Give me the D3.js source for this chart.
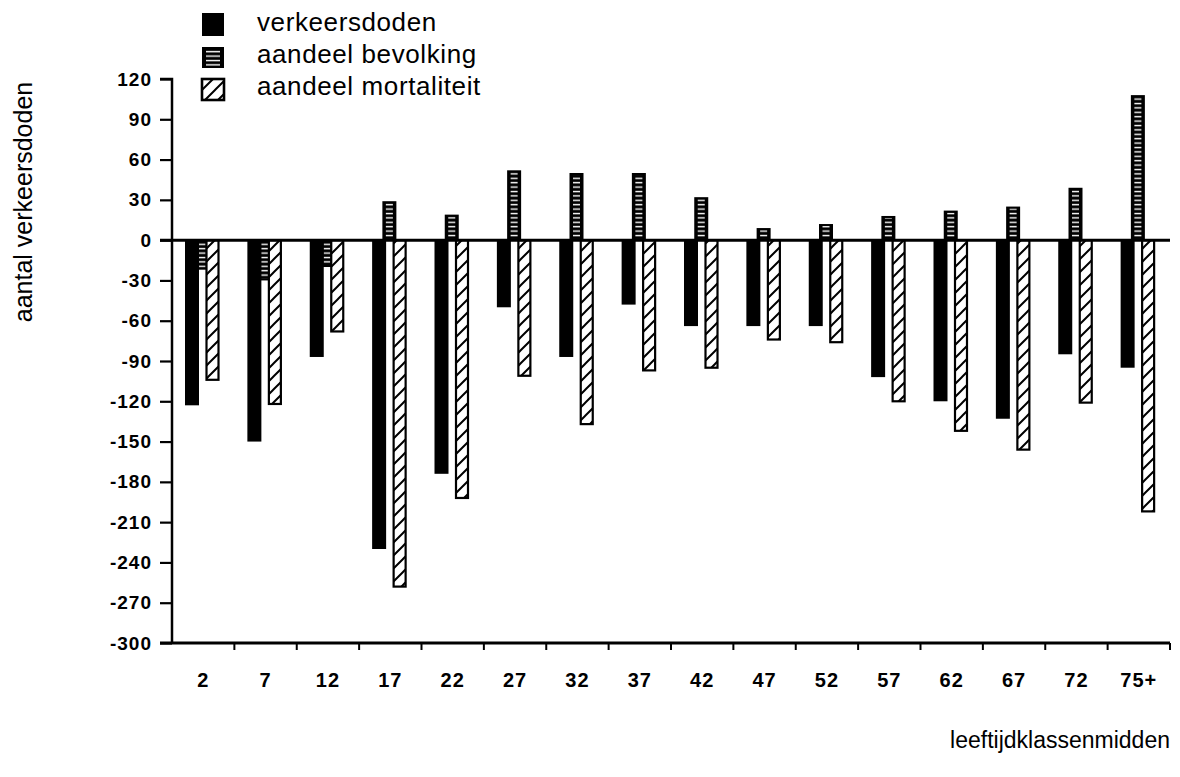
<!DOCTYPE html>
<html>
<head>
<meta charset="utf-8">
<script src="https://cdn.jsdelivr.net/npm/d3@7"></script>
<style>
  body { margin: 0; background: #fff; }
  svg { display: block; font-family: "Liberation Sans", Arial, Helvetica, sans-serif; }
  .tick-label { font-size: 19px; font-weight: bold; fill: #000; letter-spacing: 1px; }
  .x-label { font-size: 20px; font-weight: bold; fill: #000; letter-spacing: 1px; }
  .title { font-size: 23px; fill: #000; }
  .ylab { font-size: 25px; fill: #000; }
  .leg { font-size: 26px; fill: #000; letter-spacing: 0.6px; }
</style>
</head>
<body>
<div id="chart"></div>
<script>
// ---- data ----
const ageLabels = ["2","7","12","17","22","27","32","37","42","47","52","57","62","67","72","75+"];
const verkeersdoden      = [-123, -150, -87, -230, -174, -50, -87, -48, -64, -64, -64, -102, -120, -133, -85, -95];
const aandeelBevolking   = [-22, -30, -20, 29, 19, 52, 50, 50, 32, 9, 12, 18, 22, 25, 39, 108];
const aandeelMortaliteit = [-104, -122, -68, -258, -192, -101, -137, -97, -95, -74, -76, -120, -142, -156, -121, -202];
const yTicks = [120, 90, 60, 30, 0, -30, -60, -90, -120, -150, -180, -210, -240, -270, -300];
const seriesNames = ["verkeersdoden", "aandeel bevolking", "aandeel mortaliteit"];

const W = 1180, H = 777;
const plot = { left: 172, right: 1170, top: 79, bottom: 643 };
const barW = 14;

const svg = d3.select("#chart").append("svg")
  .attr("width", W).attr("height", H);

// ---- patterns ----
const defs = svg.append("defs");

// white horizontal dashes for "aandeel bevolking"
defs.append("pattern")
  .attr("id", "hlines")
  .attr("patternUnits", "userSpaceOnUse")
  .attr("width", 8).attr("height", 4.4)
  .append("rect")
  .attr("x", 0).attr("y", 1.6)
  .attr("width", 8).attr("height", 1.4)
  .attr("fill", "#fff");

// "/" diagonals for "aandeel mortaliteit"
const diag = defs.append("pattern")
  .attr("id", "diag")
  .attr("patternUnits", "userSpaceOnUse")
  .attr("width", 13).attr("height", 13);
diag.append("rect").attr("width", 13).attr("height", 13).attr("fill", "#fff");
diag.append("path")
  .attr("d", "M0,13 L13,0 M-2,2 L2,-2 M11,15 L15,11")
  .attr("stroke", "#000")
  .attr("stroke-width", 2);

// ---- scales ----
const x = d3.scaleBand()
  .domain(ageLabels)
  .range([plot.left, plot.right])
  .padding(0);

const sub = d3.scalePoint()
  .domain(seriesNames)
  .range([20, 40.5]);

const y = d3.scaleLinear()
  .domain([-300, 120])
  .range([plot.bottom, plot.top]);

const rows = ageLabels.map((a, i) => ({
  age: a,
  dood: verkeersdoden[i],
  bev: aandeelBevolking[i],
  mort: aandeelMortaliteit[i]
}));

function barY(v) { return Math.min(y(v), y(0)); }
function barH(v) { return Math.abs(y(v) - y(0)); }

// ---- bars ----
const bars = svg.append("g");

// aandeel bevolking (behind)
const bev = bars.selectAll("g.bev").data(rows).join("g").attr("class", "bev");
bev.append("rect")
  .attr("x", d => x(d.age) + sub("aandeel bevolking") - barW / 2)
  .attr("y", d => barY(d.bev))
  .attr("width", barW)
  .attr("height", d => barH(d.bev))
  .attr("fill", "#000");
bev.append("rect")
  .attr("x", d => x(d.age) + sub("aandeel bevolking") - barW / 2 + 3.5)
  .attr("y", d => barY(d.bev) + 2)
  .attr("width", barW - 7)
  .attr("height", d => Math.max(0, barH(d.bev) - 4))
  .attr("fill", "url(#hlines)");

// verkeersdoden (solid)
bars.selectAll("rect.dood").data(rows).join("rect")
  .attr("class", "dood")
  .attr("x", d => x(d.age) + sub("verkeersdoden") - barW / 2)
  .attr("y", d => barY(d.dood))
  .attr("width", barW)
  .attr("height", d => barH(d.dood))
  .attr("fill", "#000");

// aandeel mortaliteit (hatched)
bars.selectAll("rect.mort").data(rows).join("rect")
  .attr("class", "mort")
  .attr("x", d => x(d.age) + sub("aandeel mortaliteit") - barW / 2 + 1)
  .attr("y", d => barY(d.mort))
  .attr("width", barW - 2)
  .attr("height", d => barH(d.mort))
  .attr("fill", "url(#diag)")
  .attr("stroke", "#000")
  .attr("stroke-width", 2.2);

// ---- axes ----
const yAxis = svg.append("g")
  .attr("transform", `translate(${plot.left},0)`)
  .call(d3.axisLeft(y).tickValues(yTicks).tickSize(12).tickPadding(8).tickFormat(d => String(d)));
yAxis.select(".domain").attr("stroke-width", 2.5).attr("d", `M-12,${plot.top}H0V${plot.bottom}`);
yAxis.selectAll(".tick line").attr("stroke-width", 2.2);
yAxis.selectAll(".tick text").attr("class", "tick-label").attr("font-family", null).attr("font-size", null);

// zero line
svg.append("line")
  .attr("x1", plot.left - 12).attr("x2", plot.right)
  .attr("y1", y(0)).attr("y2", y(0))
  .attr("stroke", "#000").attr("stroke-width", 3);

// bottom axis: ticks at group boundaries, labels at group centres
const xAxis = svg.append("g")
  .attr("transform", `translate(0,${plot.bottom})`)
  .call(d3.axisBottom(x).tickSize(0).tickPadding(30));
xAxis.select(".domain").remove();
xAxis.selectAll(".tick text").attr("class", "x-label").attr("font-family", null).attr("font-size", null);

svg.append("line")
  .attr("x1", plot.left - 12).attr("x2", plot.right)
  .attr("y1", plot.bottom).attr("y2", plot.bottom)
  .attr("stroke", "#000").attr("stroke-width", 3);

svg.append("g").selectAll("line").data(ageLabels.slice(1).concat(["end"]))
  .join("line")
  .attr("x1", (d, i) => plot.left + (i + 1) * x.step())
  .attr("x2", (d, i) => plot.left + (i + 1) * x.step())
  .attr("y1", plot.bottom).attr("y2", plot.bottom + 7)
  .attr("stroke", "#000").attr("stroke-width", 2);

// ---- titles ----
svg.append("text")
  .attr("class", "ylab")
  .attr("transform", `translate(32,202) rotate(-90)`)
  .attr("text-anchor", "middle")
  .text("aantal verkeersdoden");

svg.append("text")
  .attr("class", "title")
  .attr("x", plot.right).attr("y", 748)
  .attr("text-anchor", "end")
  .text("leeftijdklassenmidden");

// ---- legend ----
const legend = svg.append("g").attr("transform", "translate(202,13)");
const item = legend.selectAll("g").data(seriesNames).join("g")
  .attr("transform", (d, i) => `translate(0,${i * 32})`);

item.append("rect")
  .attr("y", (d, i) => i === 0 ? 0 : 2)
  .attr("width", 22)
  .attr("height", (d, i) => i === 0 ? 23 : 21)
  .attr("fill", (d, i) => i === 2 ? "url(#diag)" : "#000")
  .attr("stroke", "#000")
  .attr("stroke-width", (d, i) => i === 2 ? 2.6 : 0);

item.filter((d, i) => i === 1).append("rect")
  .attr("x", 4).attr("y", 5).attr("width", 14).attr("height", 16)
  .attr("fill", "url(#hlines)");

item.append("text")
  .attr("class", "leg")
  .attr("x", 55).attr("y", 18)
  .text(d => d);
</script>
</body>
</html>
